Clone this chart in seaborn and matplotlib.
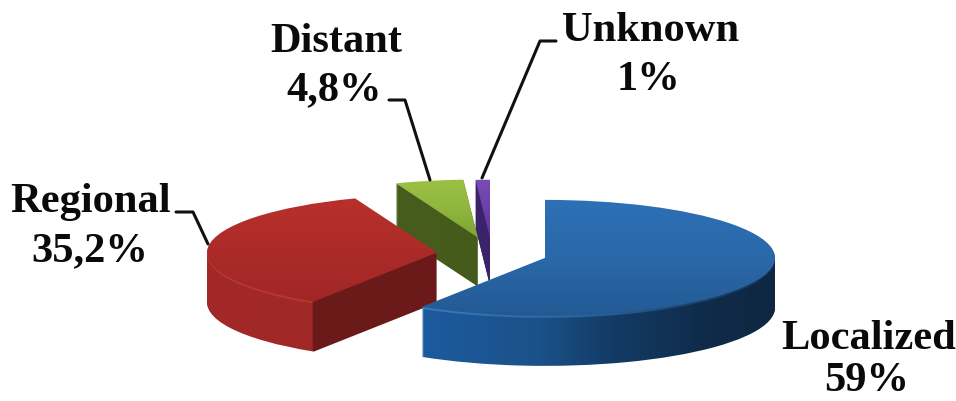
import matplotlib
matplotlib.use('Agg')
import matplotlib.pyplot as plt
from matplotlib.colors import LinearSegmentedColormap
from matplotlib.lines import Line2D
import numpy as np
import seaborn as sns

### Data ###
stages = ['Localized', 'Regional', 'Distant', 'Unknown']
shares = [59, 35.2, 4.8, 1]
share_labels = ['59%', '35,2%', '4,8%', '1%']

### Look of the slices ###
explode = [0.24, 0.24, 0.29, 0.28]
draw_order = [2, 3, 1, 0]  # back to front
depth_px = [50, 50, 49, 48]

W, H = 956, 401
cx, cy = 492, 254  # pie centre in pixels
rx, ry = 230, 58   # ellipse radii in pixels

top_colors = [['#2d70b6', '#2a68a8', '#235a94'],
              ['#b8302b', '#ac2b29', '#a02626'],
              ['#9cc044', '#8fb53e', '#7ba335'],
              ['#7a4bb5', '#6c40a8', '#5e3598']]
top_range = [(200, 316), (197, 305), (180, 240), (180, 240)]

# (pixel x, colour) stops for the side wall
side_stops = [[(0, '#1d5a9e'), (422, '#1d5a9e'), (540, '#1a5188'), (610, '#133c66'), (700, '#102c4c'), (780, '#0e2640'), (956, '#0e2640')],
              [(0, '#a62b28'), (312, '#a02826'), (313, '#6a1a19'), (956, '#731c1a')],
              [(0, '#4a6220'), (956, '#3f5518')],
              [(0, '#3a2368'), (956, '#3a2368')]]
rim_stops = [[(0, '#3a7bbb'), (422, '#3a7bbb'), (600, '#28619a'), (700, '#1a426c'), (780, '#12304f'), (956, '#12304f')],
             [(0, '#bb3d38'), (312, '#b53632'), (313, '#6a1a19'), (956, '#731c1a')],
             [(0, '#4a6220'), (956, '#3f5518')],
             [(0, '#3a2368'), (956, '#3a2368')]]


def stops_cmap(stops):
    return LinearSegmentedColormap.from_list('side', [(x / 956, c) for x, c in stops], N=956)


sns.set_theme(style='white')
fig = plt.figure(figsize=(W / 100, H / 100), dpi=100, facecolor='white')
ax = fig.add_axes([0, 0, 1, 1])

xlim = (-cx / rx, (W - cx) / rx)
ylim = (-(H - cy) / ry, cy / ry)
extent = (xlim[0], xlim[1], ylim[0], ylim[1])
x_ramp = np.arange(W).reshape(1, -1)
y_ramp = np.arange(H).reshape(-1, 1)


def pie_layer(dy_px):
    wedges, _ = ax.pie(shares, explode=explode, startangle=90, counterclock=False,
                       center=(0, -dy_px / ry), wedgeprops={'linewidth': 0, 'facecolor': 'none'})
    return wedges


for rank, i in enumerate(draw_order):
    side = stops_cmap(side_stops[i])
    rim = stops_cmap(rim_stops[i])
    # side wall: one slice per pixel of depth, from the bottom upwards
    for k, dy in enumerate(range(depth_px[i], 0, -1)):
        wedge = pie_layer(dy)[i]
        im = ax.imshow(x_ramp, cmap=rim if dy <= 2 else side, vmin=0, vmax=W - 1, extent=extent,
                       aspect='auto', zorder=10 * rank + 1 + k * 0.01, interpolation='nearest')
        im.set_clip_path(wedge)
    # top face
    wedge = pie_layer(0)[i]
    top = sns.blend_palette(top_colors[i], as_cmap=True)
    im = ax.imshow(y_ramp, cmap=top, vmin=top_range[i][0], vmax=top_range[i][1], extent=extent,
                   aspect='auto', zorder=10 * rank + 5, interpolation='bilinear')
    im.set_clip_path(wedge)

ax.set_aspect('auto')
ax.set_xlim(xlim)
ax.set_ylim(ylim)
ax.axis('off')


### Labels and leader lines, placed in image pixels ###
def px(x, y):
    return x / W, 1 - y / H


# centre x, baseline y
name_pos = [(869, 349), (91, 212), (336, 52), (651, 41)]
share_pos = [(867, 391), (90, 261), (334, 100), (648, 90)]
for name, share, p, q in zip(stages, share_labels, name_pos, share_pos):
    fig.text(*px(*p), name, ha='center', va='baseline', family='Liberation Serif',
             fontweight='bold', fontsize=30.6, color='#0a0a0a')
    fig.text(*px(*q), share, ha='center', va='baseline', family='Liberation Serif',
             fontweight='bold', fontsize=30.6, color='#0a0a0a')

leaders = [[(176, 212), (193, 212), (208, 244)],
           [(389, 100), (405, 100), (430, 180)],
           [(556, 41), (540, 41), (482, 178)]]
for line in leaders:
    pts = [px(x, y) for x, y in line]
    fig.add_artist(Line2D([p[0] for p in pts], [p[1] for p in pts], color='#111111', lw=2.2,
                          transform=fig.transFigure))

fig.savefig('out.png', dpi=100, facecolor='white')
